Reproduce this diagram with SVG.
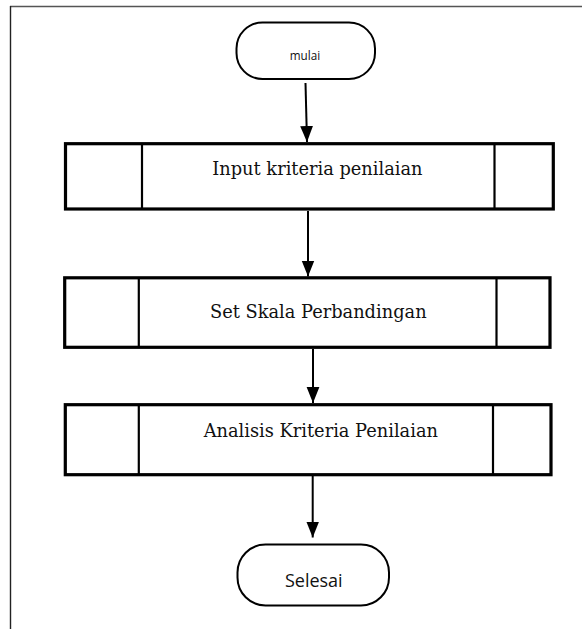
<svg xmlns="http://www.w3.org/2000/svg" width="582" height="629" viewBox="0 0 582 629">
  <style>
    .term { fill: #fff; stroke: #000; stroke-width: 2; }
    .box { fill: #fff; stroke: #000; stroke-width: 3.2; }
    .div { stroke: #000; stroke-width: 2.2; }
    .conn { stroke: #000; stroke-width: 2; fill: none; marker-end: url(#ah); }
    .sans { font-family: "Open Sans", "Liberation Sans", sans-serif; fill: #111; text-anchor: middle; }
    .serif { font-family: "DejaVu Serif", "Liberation Serif", serif; font-size: 17.8px; fill: #111; text-anchor: middle; }
  </style>
  <defs>
    <marker id="ah" markerUnits="userSpaceOnUse" markerWidth="16" markerHeight="20" refX="20" refY="8" viewBox="0 0 20 16" orient="auto">
      <path d="M0,0 L20,8 L0,16 Z" fill="#000"/>
    </marker>
  </defs>
  <rect x="0" y="0" width="582" height="629" fill="#fff"/>
  <g id="frame">
    <line x1="10" y1="6.5" x2="582" y2="6.5" stroke="#555" stroke-width="1.6"/>
    <line x1="10.5" y1="6" x2="10.5" y2="629" stroke="#222" stroke-width="1.4"/>
  </g>
  <g id="connectors">
    <line class="conn" x1="305.5" y1="83" x2="307" y2="142"/>
    <line class="conn" x1="308" y1="211" x2="308" y2="276.5"/>
    <line class="conn" x1="313" y1="349" x2="313" y2="403"/>
    <line class="conn" x1="312.7" y1="476" x2="312.7" y2="537.5"/>
  </g>
  <g id="mulai">
    <rect class="term" x="236.5" y="22.5" width="138.5" height="56.5" rx="26" ry="26"/>
    <text class="sans" x="305" y="60" font-size="11.7">mulai</text>
  </g>
  <g id="input-kriteria">
    <rect class="box" x="65.5" y="143.7" width="487.8" height="65.3"/>
    <line class="div" x1="142" y1="143.7" x2="142" y2="209"/>
    <line class="div" x1="494.5" y1="143.7" x2="494.5" y2="209"/>
    <text class="serif" x="317.4" y="175">Input kriteria penilaian</text>
  </g>
  <g id="set-skala">
    <rect class="box" x="64.7" y="277.8" width="485.3" height="69.5"/>
    <line class="div" x1="138.8" y1="277.8" x2="138.8" y2="347.3"/>
    <line class="div" x1="496.5" y1="277.8" x2="496.5" y2="347.3"/>
    <text class="serif" x="318.3" y="318.3">Set Skala Perbandingan</text>
  </g>
  <g id="analisis">
    <rect class="box" x="65.3" y="404.7" width="485.7" height="70"/>
    <line class="div" x1="138.8" y1="404.7" x2="138.8" y2="474.7"/>
    <line class="div" x1="493" y1="404.7" x2="493" y2="474.7"/>
    <text class="serif" x="320.8" y="436.7">Analisis Kriteria Penilaian</text>
  </g>
  <g id="selesai">
    <rect class="term" x="237.5" y="544.5" width="151.5" height="61" rx="28" ry="28"/>
    <text class="sans" x="313.8" y="586.7" font-size="18">Selesai</text>
  </g>
</svg>
